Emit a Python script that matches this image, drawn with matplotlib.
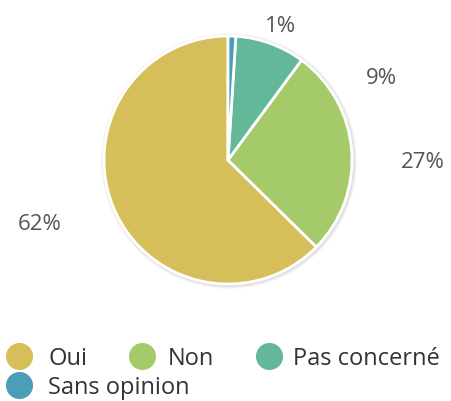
import matplotlib.pyplot as plt
from matplotlib.patches import Circle

categories = ['Oui', 'Non', 'Pas concerné', 'Sans opinion']
shares = [62, 27, 9, 1]
pct_labels = ['62%', '27%', '9%', '1%']
colors = ['#d6bf5b', '#a5ca6a', '#62b899', '#4a9eb5']

W, H = 451, 402
cx, cy, r = 228, 161, 124

fig = plt.figure(figsize=(W / 100, H / 100), dpi=100)
ax = fig.add_axes([0, 0, 1, 1])

# soft shadow behind the pie
for k, a in [(4, 0.05), (3, 0.07), (2, 0.10)]:
    ax.add_patch(Circle((cx + 1, cy + 1), r + k, color='#777777', alpha=a, lw=0, zorder=0))

# y axis is flipped, so counterclock=False draws counter-clockwise on screen
wedges, _ = ax.pie(shares, colors=colors, startangle=-90, counterclock=False,
                   center=(cx, cy), radius=r, frame=True,
                   wedgeprops=dict(edgecolor='white', linewidth=2))
ax.set_xlim(0, W)
ax.set_ylim(H, 0)
ax.set_aspect('equal')
ax.axis('off')

# data label positions (x, centre y, alignment)
label_pos = [(62, 225, 'right'), (401, 163, 'left'), (366, 78, 'left'), (265, 26, 'left')]
for txt, (x, y, ha) in zip(pct_labels, label_pos):
    ax.text(x, y, txt, ha=ha, va='center', fontsize=16, color='#555555',
            family='Open Sans')

# legend: marker centre and text start
leg_marker = [(19, 357), (142, 357), (269, 357), (19, 386)]
leg_text_x = [48, 168, 293, 48]
for name, col, (x, y), tx in zip(categories, colors, leg_marker, leg_text_x):
    ax.scatter([x], [y], s=380, color=col, lw=0, zorder=3)
    ax.text(tx, y + 2, name, ha='left', va='center', fontsize=17, color='#333333',
            family='Open Sans')

fig.savefig('out.png', dpi=100)
